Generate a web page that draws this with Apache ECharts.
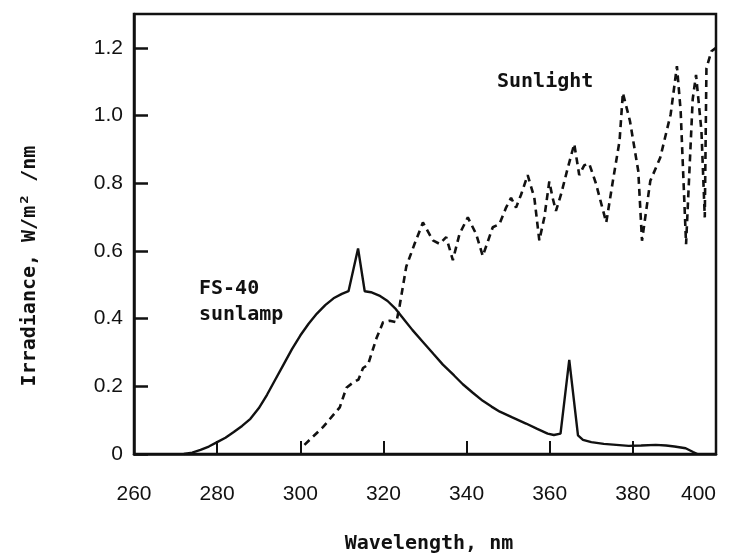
<!DOCTYPE html>
<html>
<head>
<meta charset="utf-8">
<script src="https://cdn.jsdelivr.net/npm/echarts@6/dist/echarts.min.js"></script>
<style>
html,body{margin:0;padding:0;background:#fff;}
#chart{width:736px;height:559px;}
</style>
</head>
<body>
<div id="chart"></div>
<script>
// ---- data ----
var xTicks = [260, 280, 300, 320, 340, 360, 380, 400];
var yTicks = [0, 0.2, 0.4, 0.6, 0.8, 1.0, 1.2];

var sunlampWl = [272, 274, 276, 278, 280, 282, 284, 286, 288, 290, 292, 294, 296, 298, 300, 302, 304, 306, 308, 310, 311.6, 313.9, 315.5, 317, 319, 321, 323, 325, 327, 329.5, 332, 334.3, 337, 339.1, 341.5, 343.9, 346, 348, 351, 354.3, 357, 359.5, 361, 362.6, 364.7, 366.8, 368, 370, 373, 376, 379, 382, 385.5, 388, 390, 392.7, 394.5, 395.5];
var sunlampVal = [0, 0.004, 0.012, 0.022, 0.035, 0.048, 0.065, 0.083, 0.104, 0.135, 0.175, 0.22, 0.265, 0.31, 0.35, 0.385, 0.415, 0.44, 0.46, 0.473, 0.481, 0.607, 0.481, 0.478, 0.468, 0.452, 0.428, 0.397, 0.366, 0.331, 0.296, 0.264, 0.232, 0.206, 0.181, 0.157, 0.14, 0.125, 0.108, 0.09, 0.074, 0.06, 0.056, 0.06, 0.278, 0.055, 0.042, 0.035, 0.03, 0.027, 0.024, 0.025, 0.027, 0.025, 0.022, 0.017, 0.006, 0];

var sunlightWl = [301, 305.5, 309.5, 311.1, 312.7, 314, 315.1, 316.3, 318.3, 319.9, 321.5, 323.1, 323.9, 325.5, 327.5, 329.5, 331.9, 333.5, 335.1, 336.7, 338.3, 340.3, 342.3, 343.9, 346.3, 347.9, 349.5, 350.7, 351.9, 353.1, 354.7, 356.3, 357.5, 358.7, 359.9, 360.7, 361.5, 362.7, 364.3, 365.9, 367.1, 368.3, 369.5, 371.1, 373.6, 375.2, 376.8, 377.6, 379.3, 381.3, 382.2, 384.2, 386.6, 389.1, 390.6, 391.5, 392.8, 394.4, 395.2, 396.5, 397.3, 397.7, 398.9, 400];
var sunlightVal = [0.027, 0.08, 0.138, 0.196, 0.211, 0.22, 0.254, 0.264, 0.341, 0.389, 0.394, 0.389, 0.438, 0.554, 0.621, 0.684, 0.631, 0.621, 0.641, 0.573, 0.65, 0.699, 0.65, 0.585, 0.67, 0.679, 0.728, 0.757, 0.728, 0.766, 0.824, 0.757, 0.631, 0.699, 0.805, 0.757, 0.718, 0.766, 0.843, 0.916, 0.824, 0.853, 0.858, 0.8, 0.684, 0.807, 0.925, 1.067, 0.984, 0.836, 0.63, 0.807, 0.876, 1.004, 1.146, 1.013, 0.62, 1.049, 1.12, 0.954, 0.699, 1.14, 1.19, 1.2];

var xTitle = 'Wavelength, nm';
var yTitle = 'Irradiance, W/m² /nm';
var lampLabel1 = 'FS-40';
var lampLabel2 = 'sunlamp';
var sunLabel = 'Sunlight';

// ---- build ----
function pairs(xs, ys) { return xs.map(function (x, i) { return [x, ys[i]]; }); }

var monoFont = '"DejaVu Sans Mono", "Liberation Mono", monospace';
var numFont = '"Liberation Sans Narrow", "Liberation Sans", sans-serif';
var ink = '#111';

var chart = echarts.init(document.getElementById('chart'), null, { renderer: 'canvas' });
chart.setOption({
  animation: false,
  backgroundColor: '#fff',
  grid: { left: 134, right: 20, top: 14, bottom: 97, show: true, borderColor: ink, borderWidth: 2.5, containLabel: false },
  xAxis: {
    type: 'value', min: xTicks[0], max: xTicks[xTicks.length - 1], interval: 20,
    name: xTitle, nameLocation: 'middle', nameGap: 80,
    nameTextStyle: { fontFamily: monoFont, fontSize: 20, fontWeight: 'bold', color: ink, padding: [0, 0, 0, 8] },
    axisLine: { show: true, lineStyle: { color: ink, width: 2.5 } },
    axisTick: { show: true, inside: true, length: 13, lineStyle: { color: ink, width: 2 } },
    axisLabel: { color: ink, fontFamily: numFont, fontSize: 21, margin: 30, alignMaxLabel: 'right' },
    splitLine: { show: false }
  },
  yAxis: {
    type: 'value', min: 0, max: 1.3, interval: 0.2,
    name: yTitle, nameLocation: 'middle', nameGap: 94, nameRotate: 90,
    nameTextStyle: { fontFamily: monoFont, fontSize: 20, fontWeight: 'bold', color: ink, padding: [0, 64, 0, 0] },
    axisLine: { show: true, lineStyle: { color: ink, width: 2.5 } },
    axisTick: { show: true, inside: true, length: 14, lineStyle: { color: ink, width: 2.5 } },
    axisLabel: {
      color: ink, fontFamily: numFont, fontSize: 21, margin: 11, showMaxLabel: false,
      formatter: function (v) { return yTicks.indexOf(Math.round(v * 10) / 10) < 0 ? '' : (v === 0 ? '0' : v.toFixed(1)); }
    },
    splitLine: { show: false }
  },
  series: [
    {
      name: 'FS-40 sunlamp', type: 'line', data: pairs(sunlampWl, sunlampVal),
      showSymbol: false, smooth: false, lineStyle: { color: ink, width: 2.4 }
    },
    {
      name: 'Sunlight', type: 'line', data: pairs(sunlightWl, sunlightVal),
      showSymbol: false, smooth: false, lineStyle: { color: ink, width: 2.6, type: [7, 5] }
    }
  ],
  graphic: [
    { type: 'text', left: 199, top: 279, style: { text: lampLabel1, font: 'bold 20px ' + monoFont, fill: ink } },
    { type: 'text', left: 199, top: 305, style: { text: lampLabel2, font: 'bold 20px ' + monoFont, fill: ink } },
    { type: 'text', left: 497, top: 72, style: { text: sunLabel, font: 'bold 20px ' + monoFont, fill: ink } }
  ]
});
</script>
</body>
</html>
